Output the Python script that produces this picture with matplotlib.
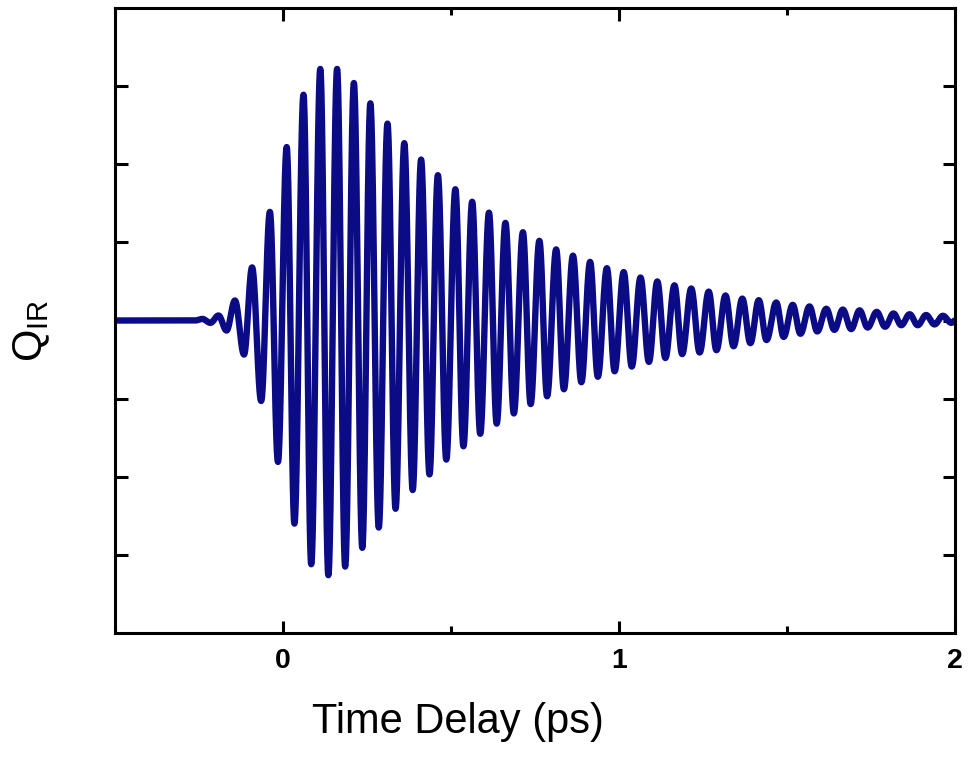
import matplotlib
matplotlib.use("Agg")
import matplotlib.pyplot as plt
import numpy as np
from matplotlib.ticker import MultipleLocator, NullFormatter

# extrema of the Q_IR trace (time in ps, amplitude in tick units)
t_ext = [-0.50, -0.262, -0.240, -0.216, -0.192, -0.168, -0.143, -0.116, -0.092, -0.065,
         -0.039, -0.015, 0.011, 0.034, 0.061, 0.084, 0.111, 0.135, 0.161, 0.185,
         0.211, 0.236, 0.260, 0.285, 0.311, 0.335, 0.361, 0.386, 0.411, 0.436,
         0.461, 0.486, 0.513, 0.537, 0.563, 0.587, 0.613, 0.636, 0.662, 0.687,
         0.714, 0.737, 0.763, 0.786, 0.813, 0.836, 0.863, 0.888, 0.914, 0.937,
         0.964, 0.987, 1.014, 1.038, 1.064, 1.089, 1.114, 1.138, 1.165, 1.188,
         1.215, 1.240, 1.267, 1.290, 1.317, 1.341, 1.367, 1.391, 1.416, 1.439,
         1.468, 1.490, 1.517, 1.540, 1.567, 1.590, 1.617, 1.641, 1.666, 1.691,
         1.716, 1.740, 1.767, 1.792, 1.817, 1.840, 1.865, 1.889, 1.914, 1.939,
         1.964, 1.989, 2.00]
q_ext = [0.0, 0.0, 0.02, -0.03, 0.064, -0.128, 0.256, -0.436, 0.68, -1.03,
         1.39, -1.81, 2.22, -2.60, 2.89, -3.12, 3.22, -3.26, 3.22, -3.15,
         3.04, -2.91, 2.78, -2.65, 2.52, -2.41, 2.27, -2.17, 2.06, -1.97,
         1.86, -1.78, 1.68, -1.61, 1.52, -1.45, 1.38, -1.32, 1.25, -1.19,
         1.13, -1.07, 1.02, -0.97, 0.91, -0.88, 0.83, -0.79, 0.75, -0.72,
         0.67, -0.65, 0.62, -0.59, 0.55, -0.53, 0.50, -0.48, 0.45, -0.43,
         0.41, -0.41, 0.37, -0.38, 0.32, -0.33, 0.28, -0.29, 0.26, -0.25,
         0.23, -0.21, 0.20, -0.17, 0.18, -0.14, 0.15, -0.12, 0.14, -0.11,
         0.13, -0.09, 0.11, -0.08, 0.09, -0.06, 0.08, -0.06, 0.07, -0.05,
         0.06, -0.03, 0.0]

x_ticks = [0, 1, 2]
x_ticklabels = ["0", "1", "2"]

plt.rcParams["font.family"] = ["Liberation Sans", "DejaVu Sans"]

# join neighbouring extrema with half-cosine segments so the trace is smooth
ts, qs = [], []
for i in range(len(t_ext) - 1):
    s = np.linspace(0, 1, 30, endpoint=False)
    ts.append(t_ext[i] + (t_ext[i + 1] - t_ext[i]) * s)
    qs.append(q_ext[i] + (q_ext[i + 1] - q_ext[i]) * (1 - np.cos(np.pi * s)) / 2)
ts.append([t_ext[-1]])
qs.append([q_ext[-1]])
ts = np.concatenate(ts)
qs = np.concatenate(qs)

fig = plt.figure(figsize=(9.7, 7.64), dpi=100)
ax = fig.add_axes([115 / 970, 1 - 633 / 764, 840 / 970, 625 / 764])

ax.plot(ts, qs, color="#0b0b86", lw=4.6, solid_joinstyle="round")

ax.set_xlim(-0.5, 2)
ax.set_ylim(-4, 4)
ax.set_xticks(x_ticks)
ax.set_xticklabels(x_ticklabels, fontsize=20.5, fontweight="bold")
ax.xaxis.set_minor_locator(MultipleLocator(0.5))
ax.set_yticks([-3, -2, -1, 0, 1, 2, 3])
ax.yaxis.set_major_formatter(NullFormatter())

for sp in ax.spines.values():
    sp.set_linewidth(2.2)
ax.tick_params(which="major", direction="in", length=9, width=2.2,
               top=True, right=True, pad=11)
ax.tick_params(which="minor", direction="in", length=5, width=2.2,
               top=True, right=True)

fig.text(458 / 970, 1 - 722 / 764, "Time Delay (ps)", fontsize=30,
         ha="center", va="center")
fig.text(32 / 970, 1 - 331 / 764, r"$\mathregular{Q_{IR}}$", fontsize=30,
         rotation=90, ha="center", va="center")

fig.savefig("out.png", dpi=100)
